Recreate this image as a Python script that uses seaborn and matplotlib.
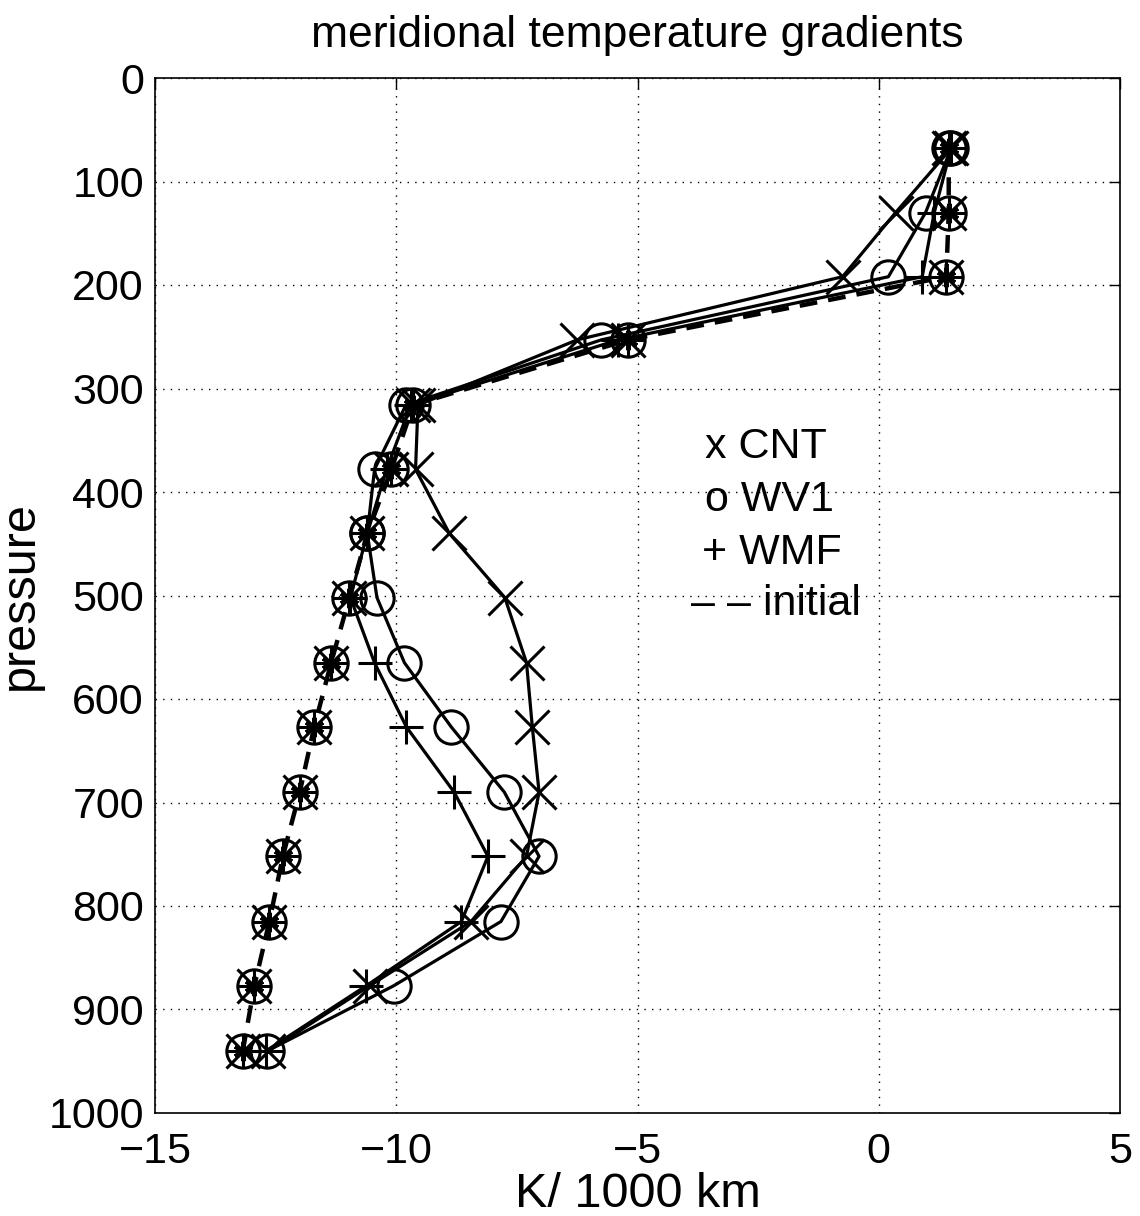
import numpy as np
import pandas as pd
import matplotlib
matplotlib.use("Agg")
import matplotlib.pyplot as plt
import seaborn as sns

# ---- data ----
pressure = [68, 130, 192, 253, 316, 378, 440, 502, 565, 627, 690, 752, 815, 877, 940]
cnt = [1.5, 0.35, -0.75, -6.25, -9.55, -9.6, -8.9, -7.75, -7.3, -7.18, -7.04, -7.3, -8.45, -10.55, -12.65]
wv1 = [1.5, 0.97, 0.2, -5.75, -9.8, -10.45, -10.6, -10.4, -9.83, -8.86, -7.76, -7.04, -7.83, -10.05, -12.67]
wmf = [1.5, 1.15, 0.9, -5.4, -9.7, -10.2, -10.6, -10.95, -10.45, -9.79, -8.8, -8.1, -8.65, -10.62, -12.7]
initial = [1.45, 1.45, 1.4, -5.2, -9.65, -10.1, -10.6, -10.97, -11.35, -11.7, -12.0, -12.35, -12.63, -12.94, -13.18]

x_ticks = [-15, -10, -5, 0, 5]
y_ticks = list(range(0, 1001, 100))
legend_lines = ["x CNT", "o WV1", "+ WMF", "\u2013 \u2013 initial"]
title = "meridional temperature gradients"
xlabel = "K/ 1000 km"
ylabel = "pressure"

sns.set_style("white")
plt.rcParams['font.family'] = ['Liberation Sans', 'DejaVu Sans']
plt.rcParams['axes.unicode_minus'] = True
plt.rcParams['text.color'] = 'black'
plt.rcParams['axes.labelcolor'] = 'black'

fig = plt.figure(figsize=(11.4, 12.16), dpi=100)
ax = fig.add_axes([155/1140, 1 - 1113/1216, (1120-155)/1140, (1113-78)/1216])

lw = 2.3
ms = 24
mew = 2.2

def line(xv, marker, ls='-', lwid=lw):
    df = pd.DataFrame({"x": xv, "p": pressure})
    sns.lineplot(data=df, x="x", y="p", sort=False, estimator=None, ax=ax, color='black',
                 linewidth=lwid, linestyle=ls, marker=marker, markersize=ms,
                 markeredgewidth=mew, markerfacecolor='none', markeredgecolor='black')

def pts(xv, marker, size=ms, width=mew):
    df = pd.DataFrame({"x": xv, "p": pressure})
    sns.lineplot(data=df, x="x", y="p", sort=False, estimator=None, ax=ax, color='black',
                 linestyle='none', marker=marker, markersize=size,
                 markeredgewidth=width, markerfacecolor='none', markeredgecolor='black')

# initial: dashed with all markers overlapping
df0 = pd.DataFrame({"x": initial, "p": pressure})
sns.lineplot(data=df0, x="x", y="p", sort=False, estimator=None, ax=ax, color='black',
             linewidth=3.2, dashes=[(4, 2.5)], style=[0]*len(pressure), legend=False)
for m in ['o', 'x', '+']:
    pts(initial, m)
pts(initial, (6, 2, 0), size=14, width=3.0)

line(cnt, 'x')
line(wv1, 'o')
line(wmf, '+')

ax.set_xlim(-15, 5)
ax.set_ylim(1000, 0)
ax.set_xticks(x_ticks)
ax.set_yticks(y_ticks)
ax.grid(True, linestyle=(0, (1, 4.5)), color='black', linewidth=1.0)
for s in ax.spines.values():
    s.set_visible(True)
    s.set_color('black')
    s.set_linewidth(1.2)
ax.tick_params(axis='both', direction='in', length=8, width=1.0, labelsize=31,
               top=True, right=True, colors='black')
ax.tick_params(axis='y', pad=8)
ax.tick_params(axis='x', pad=14)
ax.set_title(title, fontsize=32, pad=22)
ax.set_xlabel(xlabel, fontsize=35, labelpad=0)
ax.set_ylabel(ylabel, fontsize=35, labelpad=4)

ys = [357, 408, 459, 508]
xs = [-3.6, -3.6, -3.66, -3.89]
for t, xx, yy in zip(legend_lines, xs, ys):
    ax.text(xx, yy, t, fontsize=31, ha='left', va='center', color='black')

fig.savefig("out.png", dpi=100)
